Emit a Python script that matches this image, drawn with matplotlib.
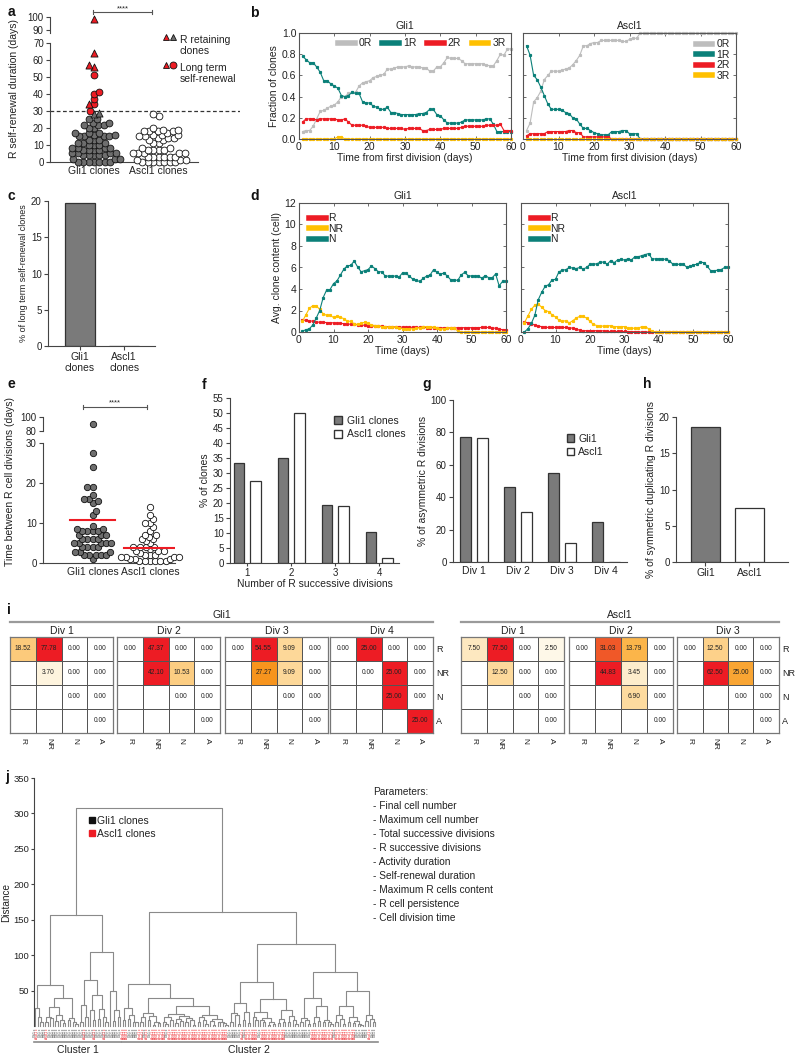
import numpy as np
import matplotlib
matplotlib.use('Agg')
import matplotlib.pyplot as plt
from matplotlib.colors import LinearSegmentedColormap
from matplotlib.lines import Line2D
from matplotlib.patches import Patch

plt.rcParams['font.family'] = ['Liberation Sans', 'DejaVu Sans']
plt.rcParams['font.size'] = 7
plt.rcParams['text.color'] = '#222222'
plt.rcParams['axes.labelcolor'] = '#222222'
NARROW = ['Liberation Sans Narrow', 'Liberation Sans', 'DejaVu Sans']

# ---------------- data ----------------
# a: R self-renewal duration (days)
gli1_sr_plain = [0, 0, 0, 0, 0, 0, 0, 2, 2, 2, 4, 4, 4, 4, 4, 5, 5, 5, 5,
                 7, 7, 7, 7, 8, 8, 8, 8, 10, 10, 10, 11, 11, 11, 13, 13, 13,
                 15, 15, 15, 15, 16, 16, 17, 17, 17, 20, 20, 22, 22, 22, 23, 23, 25, 25]
gli1_sr_retaining = [28, 29]
gli1_sr_longterm = [30, 34, 37, 40, 41, 51]
gli1_sr_both = [34, 56, 57, 64, 98]
ascl1_sr = [0, 0, 0, 0, 0, 0, 0, 1, 1, 1, 3, 3, 3, 3, 3, 3, 5, 5, 5, 5, 5,
            7, 7, 7, 7, 8, 8, 11, 11, 13, 13, 14, 14, 14, 15, 15, 16, 16, 16, 17,
            18, 18, 18, 18, 19, 19, 20, 27, 28]

# b: fraction of clones by R content
days = np.arange(1, 61)
gli1_0r = [0.07, 0.08, 0.08, 0.12, 0.19, 0.26, 0.27, 0.29, 0.31, 0.32,
           0.35, 0.40, 0.40, 0.43, 0.44, 0.44, 0.50, 0.53, 0.54, 0.55,
           0.58, 0.59, 0.60, 0.61, 0.66, 0.66, 0.67, 0.68, 0.68, 0.68,
           0.69, 0.68, 0.68, 0.68, 0.67, 0.67, 0.64, 0.64, 0.68, 0.68,
           0.72, 0.77, 0.76, 0.76, 0.76, 0.74, 0.71, 0.71, 0.71, 0.71,
           0.71, 0.71, 0.70, 0.69, 0.69, 0.74, 0.80, 0.79, 0.85, 0.85]
gli1_1r = [0.78, 0.75, 0.72, 0.72, 0.68, 0.63, 0.55, 0.55, 0.52, 0.50,
           0.48, 0.41, 0.40, 0.41, 0.44, 0.43, 0.43, 0.35, 0.34, 0.34,
           0.31, 0.30, 0.28, 0.28, 0.30, 0.25, 0.25, 0.24, 0.23, 0.23,
           0.23, 0.23, 0.23, 0.24, 0.24, 0.25, 0.28, 0.28, 0.23, 0.22,
           0.18, 0.15, 0.15, 0.15, 0.15, 0.16, 0.18, 0.18, 0.18, 0.18,
           0.18, 0.18, 0.19, 0.19, 0.14, 0.07, 0.07, 0.07, 0.07, 0.07]
gli1_2r = [0.16, 0.19, 0.19, 0.19, 0.18, 0.19, 0.19, 0.19, 0.19, 0.19,
           0.18, 0.18, 0.19, 0.16, 0.13, 0.13, 0.13, 0.13, 0.12, 0.11,
           0.11, 0.11, 0.11, 0.11, 0.10, 0.10, 0.10, 0.10, 0.10, 0.09,
           0.10, 0.10, 0.10, 0.10, 0.08, 0.08, 0.09, 0.09, 0.09, 0.09,
           0.10, 0.10, 0.10, 0.10, 0.10, 0.11, 0.12, 0.12, 0.12, 0.12,
           0.12, 0.12, 0.13, 0.13, 0.13, 0.13, 0.14, 0.08, 0.08, 0.08]
gli1_3r = [0.0] * 10 + [0.02, 0.02] + [0.0] * 48
ascl1_0r = [0.08, 0.15, 0.35, 0.39, 0.45, 0.56, 0.60, 0.64, 0.64, 0.64,
            0.65, 0.66, 0.67, 0.70, 0.74, 0.79, 0.88, 0.88, 0.90, 0.91,
            0.91, 0.93, 0.93, 0.93, 0.93, 0.93, 0.93, 0.92, 0.92, 0.94,
            0.95, 0.95] + [1.0] * 28
ascl1_1r = [0.88, 0.79, 0.60, 0.56, 0.49, 0.41, 0.33, 0.28, 0.28, 0.28,
            0.27, 0.25, 0.24, 0.20, 0.19, 0.14, 0.10, 0.10, 0.08, 0.06,
            0.05, 0.04, 0.04, 0.04, 0.07, 0.07, 0.07, 0.08, 0.08, 0.05,
            0.05, 0.05] + [0.0] * 28
ascl1_2r = [0.03, 0.05, 0.05, 0.05, 0.05, 0.05, 0.07, 0.07, 0.07, 0.07,
            0.07, 0.07, 0.08, 0.08, 0.06, 0.06, 0.02, 0.02, 0.02, 0.02,
            0.02, 0.02, 0.02, 0.02] + [0.0] * 36
ascl1_3r = [0.0] * 60

# c
c_labels = ['Gli1\nclones', 'Ascl1\nclones']
longterm_pct = [19.7, 0.0]

# d: average clone content
gli1_r = [1.1, 1.1, 1.05, 1.0, 0.95, 0.9, 0.9, 0.88, 0.87, 0.85,
          0.82, 0.8, 0.78, 0.75, 0.72, 0.7, 0.68, 0.65, 0.63, 0.6,
          0.58, 0.55, 0.54, 0.53, 0.5, 0.5, 0.48, 0.47, 0.46, 0.45,
          0.45, 0.44, 0.44, 0.43, 0.42, 0.42, 0.41, 0.41, 0.4, 0.4,
          0.39, 0.38, 0.38, 0.38, 0.38, 0.39, 0.4, 0.4, 0.4, 0.4,
          0.41, 0.41, 0.42, 0.42, 0.42, 0.38, 0.35, 0.25, 0.22, 0.22]
gli1_nr = [1.0, 1.6, 2.2, 2.45, 2.45, 2.1, 1.7, 1.55, 1.55, 1.35,
           1.45, 1.35, 1.25, 1.0, 1.0, 0.75, 0.7, 0.8, 0.9, 0.8,
           0.65, 0.6, 0.6, 0.5, 0.5, 0.45, 0.45, 0.45, 0.4, 0.3,
           0.3, 0.3, 0.3, 0.35, 0.4, 0.5, 0.5, 0.5, 0.45, 0.4,
           0.3, 0.3, 0.35, 0.4, 0.35, 0.1] + [0.0] * 14
gli1_n = [0.1, 0.2, 0.3, 0.65, 1.3, 2.0, 3.2, 3.9, 3.95, 4.5,
          4.75, 5.3, 5.85, 6.15, 6.2, 6.6, 6.05, 5.6, 5.7, 5.8,
          6.15, 5.9, 5.6, 5.6, 5.2, 5.2, 5.2, 5.2, 5.1, 5.5,
          5.45, 5.2, 4.9, 4.8, 4.7, 5.0, 5.2, 5.3, 5.8, 5.55,
          5.35, 5.5, 5.2, 4.85, 4.85, 4.8, 5.3, 5.55, 5.25, 5.2,
          5.2, 5.2, 5.0, 5.25, 5.05, 5.05, 5.4, 4.3, 4.7, 4.7]
ascl1_r = [0.95, 0.85, 0.75, 0.65, 0.55, 0.5, 0.45, 0.42, 0.42, 0.42,
           0.42, 0.42, 0.42, 0.4, 0.35, 0.3, 0.15, 0.12, 0.12, 0.12,
           0.12, 0.12, 0.12, 0.1, 0.05, 0.05, 0.05, 0.05, 0.05, 0.05,
           0.03, 0.03, 0.03] + [0.0] * 27
ascl1_nr = [0.85, 1.5, 2.1, 2.5, 2.6, 2.3, 2.0, 1.9, 1.6, 1.4,
            1.1, 1.0, 1.05, 0.85, 1.05, 1.3, 1.45, 1.45, 1.3, 1.0,
            0.7, 0.6, 0.55, 0.55, 0.55, 0.6, 0.5, 0.5, 0.5, 0.5,
            0.35, 0.35, 0.35, 0.35, 0.5, 0.5, 0.3, 0.05] + [0.0] * 22
ascl1_n = [0.0, 0.3, 0.8, 1.55, 3.0, 3.7, 4.25, 4.4, 4.85, 4.9,
           5.6, 5.75, 5.8, 6.0, 5.95, 5.9, 6.0, 5.85, 6.0, 6.3,
           6.3, 6.35, 6.5, 6.5, 6.3, 6.65, 6.45, 6.7, 6.75, 6.7,
           6.8, 6.7, 7.0, 7.0, 7.1, 7.2, 7.3, 6.8, 6.8, 6.8,
           6.8, 6.75, 6.65, 6.3, 6.3, 6.3, 6.3, 6.05, 6.1, 6.25,
           6.3, 6.5, 6.45, 6.1, 5.7, 5.7, 5.75, 5.8, 6.0, 6.0]

# e: time between R cell divisions (days)
gli1_tdiv = [90, 27.5, 24, 19, 19, 17, 16, 16, 15.5, 15, 13, 12, 9.3, 8.5, 8.5, 8, 8, 8, 8,
             7, 7, 7, 6, 6, 6, 6, 5, 5, 5, 5, 5, 4, 4, 4, 4, 2.8, 2.8, 2.8, 2, 2, 2, 2, 2, 1]
ascl1_tdiv = [14, 12, 11, 10, 10, 9, 8, 7, 7, 6.5, 6, 6, 5.5, 5, 4, 4, 4, 4, 3.5, 3, 3, 3,
              2.5, 2, 2, 2, 1.5, 1.5, 1.5, 1.5, 1, 1, 1, 0.5, 0.5, 0.5, 0.5, 0.5, 0.5]
tdiv_means = [10.7, 3.7]

# f
f_cats = [1, 2, 3, 4]
f_gli1 = [33.3, 35.0, 19.2, 10.3]
f_ascl1 = [27.5, 50.0, 18.9, 1.7]

# g
g_labels = ['Div 1', 'Div 2', 'Div 3', 'Div 4']
g_gli1 = [77.4, 46.6, 54.8, 24.6]
g_ascl1 = [76.4, 30.6, 11.7, 0.0]

# h
h_labels = ['Gli1', 'Ascl1']
h_vals = [18.6, 7.45]

# i: upper-triangular division outcome matrices (rows R, NR, N, A)
fates = ['R', 'NR', 'N', 'A']
gli1_div1 = [[18.52, 77.78, 0.00, 0.00], [3.70, 0.00, 0.00], [0.00, 0.00], [0.00]]
gli1_div2 = [[0.00, 47.37, 0.00, 0.00], [42.10, 10.53, 0.00], [0.00, 0.00], [0.00]]
gli1_div3 = [[0.00, 54.55, 9.09, 0.00], [27.27, 9.09, 0.00], [0.00, 0.00], [0.00]]
gli1_div4 = [[0.00, 25.00, 0.00, 0.00], [0.00, 25.00, 0.00], [25.00, 0.00], [25.00]]
ascl1_div1 = [[7.50, 77.50, 0.00, 2.50], [12.50, 0.00, 0.00], [0.00, 0.00], [0.00]]
ascl1_div2 = [[0.00, 31.03, 13.79, 0.00], [44.83, 3.45, 0.00], [6.90, 0.00], [0.00]]
ascl1_div3 = [[0.00, 12.50, 0.00, 0.00], [62.50, 25.00, 0.00], [0.00, 0.00], [0.00]]

# j: hierarchical clustering (G = Gli1 clone, A = Ascl1 clone, number = merge distance)
tree_a = "((G,(A,(G,G)6)12)25,((((G,A)5,(G,G)11)13,((G,G)7,(G,(G,G)4)9)15)27,((G,G)9,(G,(G,G)3)6)11)40)58"
tree_b = "(((G,G)5,(A,G)13)29,((G,(G,A)8)22,((G,G)10,(G,(A,G)6)12)24)44)65"
tree_b2 = "(G,((G,G)7,(G,G)12)22)50"
tree_c1 = "((A,A)8,((A,G)10,(G,(G,G)5)6)15)26"
tree_c2a = "(((A,A)6,G)12,((A,G)8,((A,A)2,(A,A)4)5)14)18"
tree_c2b = ("((((A,(A,G)3)6,(A,A)9)13,(((A,A)4,(A,A)7)10,((A,A)5,(A,(A,A)2)8)11)14)17,"
            "(((A,A)6,(A,(A,A)3)8)12,((A,(A,A)2)7,((A,A)5,(A,(A,A)2)4)6)10)16)28")
tree_d1 = ("((((G,G)6,(G,(G,G)3)15)18,((A,G)8,(A,A)4)20)32,"
           "(((A,(A,A)8)13,((G,(A,A)5)9,((A,A)2,(A,A)3)6)11)20,"
           "(((A,A)4,(A,A)6)10,((G,G)5,(G,(G,G)3)8)14)22)38)62")
tree_d2 = ("((((G,G)5,(G,(G,G)3)8)11,(((A,A)4,(A,A)7)13,((A,A)6,(A,(A,A)3)5)9)28)40,"
           "((((G,A)6,(A,(A,A)3)10)15,((A,A)5,((A,A)4,(G,(G,G)2)3)7)12)28,"
           "((G,G)7,(A,(G,G)5)10)16)49)76")
cluster1 = "(" + tree_a + ",(" + tree_b + "," + tree_b2 + ")105)157"
cluster2 = ("((" + tree_c1 + ",(" + tree_c2a + "," + tree_c2b + ")39)59,("
            + tree_d1 + "," + tree_d2 + ")116)161")
tree_all = "(" + cluster1 + "," + cluster2 + ")307"
parameters = ['Parameters:', '- Final cell number', '- Maximum cell number',
              '- Total successive divisions', '- R successive divisions',
              '- Activity duration', '- Self-renewal duration',
              '- Maximum R cells content', '- R cell persistence', '- Cell division time']

# ---------------- colours ----------------
GRAY = '#7a7a7a'
DOT = '#6e6e6e'
RED = '#ed1c24'
TEAL = '#0b8079'
YEL = '#ffc000'
LGRAY = '#bdbdbd'
EDGE = '#333333'

W, H = 800, 1058
fig = plt.figure(figsize=(8, 10.58), dpi=100)


def pbox(x0, y0, x1, y1):
    return [x0 / W, 1 - y1 / H, (x1 - x0) / W, (y1 - y0) / H]


def prism(ax):
    for s in ['top', 'right']:
        ax.spines[s].set_visible(False)
    for s in ['left', 'bottom']:
        ax.spines[s].set_color('#444444')
        ax.spines[s].set_linewidth(0.8)
    ax.tick_params(direction='out', length=3, width=0.8, colors='#444444',
                   labelcolor='#222222', labelsize=7, pad=1.5)


def boxed(ax):
    for s in ax.spines.values():
        s.set_color('#555555')
        s.set_linewidth(0.8)
    ax.tick_params(direction='in', top=True, right=True, length=2.5, width=0.6,
                   colors='#555555', labelcolor='#222222', labelsize=7.5, pad=2)


def swarm(values, center, ppx, ppy, diam, gap=0.78):
    # simple beeswarm: place each point as close to the centre as it can go
    placed = []
    xs = []
    step = diam / 6
    for n, v in enumerate(values):
        y = v * ppy
        k = 0
        found = None
        while found is None:
            if k == 0:
                cands = [0.0]
            elif n % 2:
                cands = [k * step, -k * step]
            else:
                cands = [-k * step, k * step]
            for off in cands:
                if all((off - px) ** 2 + (y - py) ** 2 >= (gap * diam) ** 2 for px, py in placed):
                    found = off
                    break
            k += 1
        placed.append((found, y))
        xs.append(center + found / ppx)
    return np.array(xs)


# overlay in pixel coordinates for labels and annotations
ov = fig.add_axes([0, 0, 1, 1], zorder=20)
ov.set_xlim(0, W)
ov.set_ylim(H, 0)
ov.axis('off')
ov.patch.set_alpha(0)

for lab, x, y in [('a', 8, 12), ('b', 250, 13), ('c', 8, 196), ('d', 250, 196), ('e', 8, 384),
                  ('f', 202, 385), ('g', 422, 384), ('h', 643, 384), ('i', 7, 610), ('j', 5, 777)]:
    ov.text(x, y, lab, fontsize=10, fontweight='bold', ha='left', va='center', color='#111111')

# ---------------- a ----------------
ax_a = fig.add_axes(pbox(50, 42.7, 240, 162))
ax_at = fig.add_axes(pbox(50, 16.7, 240, 32.7))
for ax in (ax_a, ax_at):
    prism(ax)
    ax.set_xlim(0, 5)
    ax.patch.set_alpha(0)
ax_at.spines['bottom'].set_visible(False)
ax_at.set_xticks([])
ax_a.set_ylim(0, 70)
ax_at.set_ylim(88, 100)
ax_a.set_yticks(range(0, 71, 10))
ax_at.set_yticks([90, 100])
ax_a.spines['bottom'].set_bounds(0, 3.9)
pos_a = [1.16, 2.86]
ax_a.set_xticks(pos_a)
ax_a.set_xticklabels(['Gli1 clones', 'Ascl1 clones'], fontsize=7.5)
ax_a.tick_params(axis='x', length=0, pad=3)
ax_a.axhline(30, color='#333333', ls='--', lw=0.9, dashes=(3, 2))

g_vals = ([(v, 'plain') for v in gli1_sr_plain] + [(v, 'ret') for v in gli1_sr_retaining]
          + [(v, 'lt') for v in gli1_sr_longterm] + [(v, 'both') for v in gli1_sr_both if v <= 70])
g_vals.sort(key=lambda t: t[0])
gx = swarm([v for v, _ in g_vals], pos_a[0], 38, 1.704, 6.5)
styles = {'plain': ('o', DOT), 'ret': ('^', DOT), 'lt': ('o', RED), 'both': ('^', RED)}
for kind, (mk, col) in styles.items():
    idx = [n for n, (_, k) in enumerate(g_vals) if k == kind]
    ax_a.scatter(gx[idx], [g_vals[n][0] for n in idx], s=24 if mk == 'o' else 26, marker=mk,
                 facecolor=col, edgecolor='#111111', lw=0.6, clip_on=False, zorder=3)
top_pts = [v for v in gli1_sr_both if v > 70]
ax_at.scatter([pos_a[0]] * len(top_pts), top_pts, s=26, marker='^', facecolor=RED,
              edgecolor='#111111', lw=0.6, clip_on=False, zorder=3)
asr = sorted(ascl1_sr)
ax_a.scatter(swarm(asr, pos_a[1], 38, 1.704, 6.5), asr, s=24, facecolor='white',
             edgecolor='#111111', lw=0.6, clip_on=False, zorder=3)
ov.text(14, 88, 'R self-renewal duration (days)', rotation=90, ha='center', va='center', fontsize=7.5)
ov.plot([93, 152], [12, 12], color='#555555', lw=0.8)
ov.plot([93, 93], [10, 14], color='#555555', lw=0.8)
ov.plot([152, 152], [10, 14], color='#555555', lw=0.8)
ov.text(122.5, 9, '****', ha='center', va='center', fontsize=5.5)
ov.plot([166], [37], marker='^', ms=5, mfc=RED, mec='#111111', mew=0.6)
ov.plot([173], [37], marker='^', ms=5, mfc=DOT, mec='#111111', mew=0.6)
ov.plot([166], [65], marker='^', ms=5, mfc=RED, mec='#111111', mew=0.6)
ov.plot([173], [65], marker='o', ms=5, mfc=RED, mec='#111111', mew=0.6)
ov.text(180, 35, 'R retaining\nclones', fontsize=7.5, va='top', linespacing=1.15)
ov.text(180, 63, 'Long term\nself-renewal', fontsize=7.5, va='top', linespacing=1.15)

# ---------------- b ----------------
b_series = [(gli1_0r, gli1_1r, gli1_2r, gli1_3r), (ascl1_0r, ascl1_1r, ascl1_2r, ascl1_3r)]
b_cols = [LGRAY, TEAL, RED, YEL]
b_names = ['0R', '1R', '2R', '3R']
for k, ((x0, x1), title) in enumerate([((299, 511), 'Gli1'), ((523, 736), 'Ascl1')]):
    ax = fig.add_axes(pbox(x0, 33, x1, 139))
    boxed(ax)
    for ser, col in zip(b_series[k], b_cols):
        ax.plot(days, ser, '-s', color=col, lw=0.8, ms=1.3, clip_on=False)
    ax.set_xlim(0, 60)
    ax.set_ylim(0, 1)
    ax.set_xticks(range(0, 61, 10))
    ax.set_yticks(np.arange(0, 1.01, 0.2))
    ax.set_title(title, fontsize=7.5, pad=3)
    ax.set_xlabel('Time from first division (days)', fontsize=7.5, labelpad=1)
    hands = [Line2D([], [], color=c, lw=4) for c in b_cols]
    if k == 0:
        ax.set_yticklabels(['%.1f' % v for v in np.arange(0, 1.01, 0.2)])
        ax.set_ylabel('Fraction of clones', fontsize=7.5, labelpad=2)
        ax.legend(hands, b_names, ncol=4, loc='upper right', frameon=False, fontsize=7.5,
                  handlelength=1.6, columnspacing=1.0, handletextpad=0.4, borderaxespad=0.1)
    else:
        ax.set_yticklabels([])
        ax.legend(hands, b_names, loc='upper right', frameon=False, fontsize=7.5,
                  handlelength=1.6, labelspacing=0.05, handletextpad=0.4, borderaxespad=0.2)

# ---------------- c ----------------
ax_c = fig.add_axes(pbox(48, 201, 155, 346))
prism(ax_c)
ax_c.bar([0, 1], longterm_pct, 0.68, color=[GRAY, 'white'], edgecolor=EDGE, lw=0.9)
ax_c.set_xlim(-0.727, 1.70)
ax_c.set_ylim(0, 20)
ax_c.set_yticks(range(0, 21, 5))
ax_c.set_xticks([0, 1])
ax_c.set_xticklabels(c_labels, fontsize=7.5, linespacing=1.1)
ax_c.set_ylabel('% of long term self-renewal clones', fontsize=6.5, labelpad=2)

# ---------------- d ----------------
d_series = [(gli1_r, gli1_nr, gli1_n), (ascl1_r, ascl1_nr, ascl1_n)]
d_cols = [RED, YEL, TEAL]
for k, ((x0, x1), title) in enumerate([((299, 506), 'Gli1'), ((521, 728), 'Ascl1')]):
    ax = fig.add_axes(pbox(x0, 203, x1, 332))
    boxed(ax)
    for ser, col in zip(d_series[k], d_cols):
        ax.plot(days, ser, '-s', color=col, lw=0.8, ms=1.3, clip_on=False)
    ax.set_xlim(0, 60)
    ax.set_ylim(0, 12)
    ax.set_xticks(range(0, 61, 10))
    ax.set_yticks(range(0, 13, 2))
    ax.set_title(title, fontsize=7.5, pad=3)
    ax.set_xlabel('Time (days)', fontsize=7.5, labelpad=1)
    if k == 0:
        ax.set_ylabel('Avg. clone content (cell)', fontsize=7.5, labelpad=2)
    else:
        ax.set_yticklabels([])
    ax.legend([Line2D([], [], color=c, lw=4) for c in d_cols], ['R', 'NR', 'N'], loc='upper left',
              frameon=False, fontsize=7.5, handlelength=1.6, labelspacing=0.05,
              handletextpad=0.2, borderaxespad=0.6)

# ---------------- e ----------------
ax_e = fig.add_axes(pbox(43, 443, 175, 563))
ax_et = fig.add_axes(pbox(43, 417, 175, 431))
for ax in (ax_e, ax_et):
    prism(ax)
    ax.set_xlim(0, 4)
    ax.patch.set_alpha(0)
ax_et.spines['bottom'].set_visible(False)
ax_et.set_xticks([])
ax_e.set_ylim(0, 30)
ax_et.set_ylim(80, 100)
ax_e.set_yticks([0, 10, 20, 30])
ax_et.set_yticks([80, 100])
pos_e = [1.5, 3.24]
ax_e.set_xticks(pos_e)
ax_e.set_xticklabels(['Gli1 clones', 'Ascl1 clones'], fontsize=7.5)
ax_e.tick_params(axis='x', length=0, pad=3)
lo = sorted(v for v in gli1_tdiv if v <= 30)
hi = [v for v in gli1_tdiv if v > 30]
ax_e.scatter(swarm(lo, pos_e[0], 33, 4.0, 6.3, 0.8), lo, s=21, facecolor=DOT, edgecolor='#111111',
             lw=0.6, clip_on=False, zorder=3)
ax_et.scatter([pos_e[0]] * len(hi), hi, s=21, facecolor=DOT, edgecolor='#111111', lw=0.6,
              clip_on=False, zorder=3)
at = sorted(ascl1_tdiv)
ax_e.scatter(swarm(at, pos_e[1], 33, 4.0, 6.3, 0.72), at, s=21, facecolor='white',
             edgecolor='#111111', lw=0.6, clip_on=False, zorder=3)
for p, m, hw in zip(pos_e, tdiv_means, [0.68, 0.8]):
    ax_e.plot([p - hw, p + hw], [m, m], color=RED, lw=1.5, zorder=4)
ov.text(10, 482, 'Time between R cell divisions (days)', rotation=90, ha='center', va='center',
        fontsize=7.5)
ov.plot([83, 147], [407, 407], color='#555555', lw=0.8)
ov.plot([83, 83], [405, 409], color='#555555', lw=0.8)
ov.plot([147, 147], [405, 409], color='#555555', lw=0.8)
ov.text(115, 403, '****', ha='center', va='center', fontsize=5.5)

# ---------------- f ----------------
ax_f = fig.add_axes(pbox(230, 398, 399, 563))
prism(ax_f)
fc = np.array(f_cats)
ax_f.bar(fc - 0.19, f_gli1, 0.24, color=GRAY, edgecolor=EDGE, lw=0.9)
ax_f.bar(fc + 0.19, f_ascl1, 0.24, color='white', edgecolor=EDGE, lw=0.9)
ax_f.set_xlim(0.61, 4.45)
ax_f.set_ylim(0, 55)
ax_f.set_yticks(range(0, 56, 5))
ax_f.set_xticks(f_cats)
ax_f.tick_params(axis='x', length=2)
ax_f.set_xlabel('Number of R successive divisions', fontsize=7.5, labelpad=1)
ax_f.set_ylabel('% of clones', fontsize=7.5, labelpad=2)
ax_f.legend([Patch(facecolor=GRAY, edgecolor=EDGE), Patch(facecolor='white', edgecolor=EDGE)],
            ['Gli1 clones', 'Ascl1 clones'], loc='upper left', bbox_to_anchor=(0.56, 0.95),
            frameon=False, fontsize=7.5, handlelength=0.8, handleheight=0.8,
            handletextpad=0.4, labelspacing=0.35)

# ---------------- g ----------------
ax_g = fig.add_axes(pbox(453, 400, 627, 562))
prism(ax_g)
gc = np.arange(len(g_labels))
ax_g.bar(gc - 0.19, g_gli1, 0.26, color=GRAY, edgecolor=EDGE, lw=0.9)
ax_g.bar(gc + 0.19, g_ascl1, 0.26, color='white', edgecolor=EDGE, lw=0.9)
ax_g.set_xlim(-0.48, 3.48)
ax_g.set_ylim(0, 100)
ax_g.set_yticks(range(0, 101, 20))
ax_g.set_xticks(gc)
ax_g.set_xticklabels(g_labels, fontsize=7.5)
ax_g.tick_params(axis='x', length=0, pad=3)
ax_g.set_ylabel('% of asymmetric R divisions', fontsize=7.5, labelpad=2)
ax_g.legend([Patch(facecolor=GRAY, edgecolor=EDGE), Patch(facecolor='white', edgecolor=EDGE)],
            ['Gli1', 'Ascl1'], loc='upper left', bbox_to_anchor=(0.6, 0.85),
            frameon=False, fontsize=7.5, handlelength=0.7, handleheight=0.7,
            handletextpad=0.4, labelspacing=0.35)

# ---------------- h ----------------
ax_h = fig.add_axes(pbox(676, 417, 788, 562))
prism(ax_h)
ax_h.bar([0, 1], h_vals, 0.67, color=[GRAY, 'white'], edgecolor=EDGE, lw=0.9)
ax_h.set_xlim(-0.67, 1.88)
ax_h.set_ylim(0, 20)
ax_h.set_yticks(range(0, 21, 5))
ax_h.set_xticks([0, 1])
ax_h.set_xticklabels(h_labels, fontsize=7.5)
ax_h.tick_params(axis='x', length=3)
ax_h.set_ylabel('% of symmetric duplicating R divisions', fontsize=7.5, labelpad=2)

# ---------------- i ----------------
cmap_i = LinearSegmentedColormap.from_list('div', [
    (0.0, '#ffffff'), (0.04, '#fef6e2'), (0.1, '#fde7bc'), (0.16, '#fdd99b'),
    (0.24, '#fcc979'), (0.31, '#fbb447'), (0.4, '#f9a533'), (0.5, '#f7941d'),
    (0.69, '#f05a28'), (0.85, '#ed1c24'), (1.0, '#ed1c24')])
groups = [('Gli1', [gli1_div1, gli1_div2, gli1_div3, gli1_div4],
           [(10, 113), (117, 220), (225, 328), (330, 433)]),
          ('Ascl1', [ascl1_div1, ascl1_div2, ascl1_div3],
           [(461, 564), (569, 673), (677, 779)])]
for gname, mats, xs in groups:
    ov.plot([xs[0][0], xs[-1][1]], [622, 622], color='#9a9a9a', lw=1.6)
    ov.text((xs[0][0] + xs[-1][1]) / 2, 615, gname, ha='center', va='center', fontsize=7.5)
    for m, (mat, (x0, x1)) in enumerate(zip(mats, xs)):
        ax = fig.add_axes(pbox(x0, 637, x1, 733))
        full = np.full((4, 4), np.nan)
        for r, row in enumerate(mat):
            full[r, r:] = row
        vmax = np.nanmax(full)
        ax.pcolormesh(np.ma.masked_invalid(full / vmax), cmap=cmap_i, vmin=0, vmax=1,
                      edgecolors='#555555', linewidth=0.6)
        for r in range(4):
            for c in range(r, 4):
                ax.text(c + 0.5, r + 0.5, '%.2f' % full[r, c], ha='center', va='center',
                        fontsize=4.8, color='#222222')
        ax.set_xlim(0, 4)
        ax.set_ylim(4, 0)
        ax.set_xticks([])
        ax.set_yticks([])
        for s in ax.spines.values():
            s.set_color('#777777')
            s.set_linewidth(0.9)
        ov.text((x0 + x1) / 2, 631, 'Div %d' % (m + 1), ha='center', va='center', fontsize=7.5)
        cw = (x1 - x0) / 4
        for c, f in enumerate(fates):
            ov.text(x0 + cw * (c + 0.5), 738, f, rotation=270, ha='center', va='top', fontsize=6)
        if m == len(mats) - 1:
            for r, f in enumerate(fates):
                ov.text(x1 + 3, 637 + 24 * (r + 0.5), f, ha='left', va='center', fontsize=6.5)

# ---------------- j ----------------


def parse(s, i=0):
    if s[i] == '(':
        left, i = parse(s, i + 1)
        right, i = parse(s, i + 1)
        i += 1
        j = i
        while j < len(s) and (s[j].isdigit() or s[j] == '.'):
            j += 1
        return (float(s[i:j]), left, right), j
    return s[i], i + 1


tree, _ = parse(tree_all)
leaves = []
segs = []


def walk(node):
    if isinstance(node, str):
        leaves.append(node)
        return len(leaves) - 1, 0.0
    h, l, r = node
    xl, hl = walk(l)
    xr, hr = walk(r)
    segs.append(([xl, xl, xr, xr], [hl, h, h, hr]))
    return (xl + xr) / 2, h


walk(tree)
ax_j = fig.add_axes(pbox(34, 778, 378, 1026))
for s in ['top', 'right', 'bottom']:
    ax_j.spines[s].set_visible(False)
ax_j.spines['left'].set_color('#444444')
ax_j.spines['left'].set_linewidth(0.8)
ax_j.tick_params(axis='y', direction='out', length=2.5, width=0.8, colors='#444444',
                 labelcolor='#222222', pad=1)
ax_j.set_xticks([])
for xs_, ys_ in segs:
    ax_j.plot(xs_, ys_, color='#8a8a8a', lw=0.8, clip_on=False)
ax_j.set_xlim(-0.4, len(leaves) + 0.2)
ax_j.set_ylim(0, 350)
ax_j.set_yticks(range(50, 351, 50))
ax_j.set_yticklabels([str(v) for v in range(50, 351, 50)], family=NARROW, fontsize=6.8)
ov.text(6.5, 902, 'Distance', rotation=90, ha='center', va='center', fontsize=7.2)
for n, lf in enumerate(leaves):
    ax_j.text(n, -3, 'Gli1 c' if lf == 'G' else 'Ascl1 c', rotation=90, ha='center', va='top',
              fontsize=2.3, color='#333333' if lf == 'G' else RED, clip_on=False)
n1 = sum(1 for ch in cluster1 if ch in 'GA')
xt = ax_j.get_xaxis_transform()
ax_j.plot([-0.4, n1 - 0.6], [-0.065, -0.065], color='#8a8a8a', lw=1.2, transform=xt, clip_on=False)
ax_j.plot([n1 - 0.4, len(leaves) + 0.2], [-0.065, -0.065], color='#8a8a8a', lw=1.2, transform=xt,
          clip_on=False)
ax_j.text((n1 - 1) / 2, -0.095, 'Cluster 1', transform=xt, ha='center', va='center',
          fontsize=7.5, family=NARROW)
ax_j.text((n1 + len(leaves) - 1) / 2, -0.095, 'Cluster 2', transform=xt, ha='center',
          va='center', fontsize=7.5, family=NARROW)
ax_j.legend([Line2D([], [], marker='s', ls='', color='#111111', ms=5),
             Line2D([], [], marker='s', ls='', color=RED, ms=5)],
            ['Gli1 clones', 'Ascl1 clones'], loc='upper left', bbox_to_anchor=(0.13, 0.885),
            frameon=False, prop={'family': NARROW, 'size': 7.5}, handletextpad=0.1,
            labelspacing=0.3, handlelength=0.8)
for n, line in enumerate(parameters):
    ov.text(373, 792 + 14 * n, line, ha='left', va='center', fontsize=7.3, family=NARROW)

fig.savefig('out.png', dpi=100)
